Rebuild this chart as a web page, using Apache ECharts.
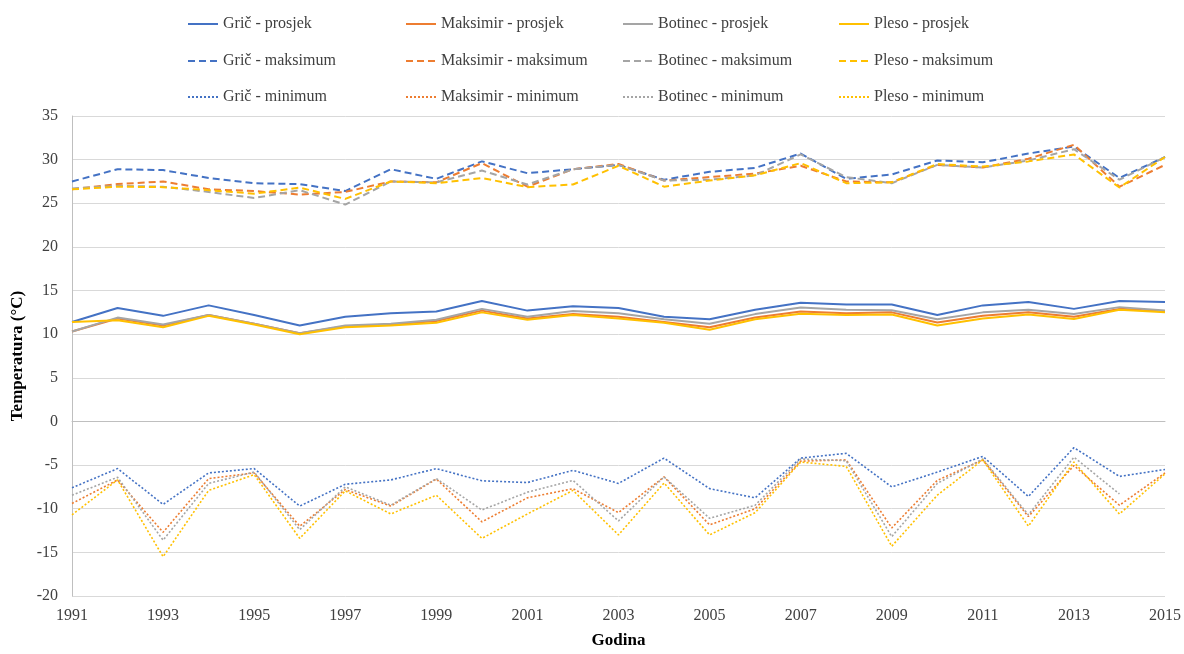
<!DOCTYPE html>
<html><head><meta charset="utf-8">
<script src="https://cdn.jsdelivr.net/npm/echarts@6/dist/echarts.min.js"></script>
<style>html,body{margin:0;padding:0;background:#fff}#c{width:1184px;height:654px}</style>
</head><body><div id="c"></div>
<script>
const years = [1991,1992,1993,1994,1995,1996,1997,1998,1999,2000,2001,2002,2003,2004,2005,2006,2007,2008,2009,2010,2011,2012,2013,2014,2015];

const gricAvg   = [11.4,13.0,12.1,13.3,12.2,11.0,12.0,12.4,12.6,13.8,12.7,13.2,13.0,12.0,11.7,12.8,13.6,13.4,13.4,12.2,13.3,13.7,12.9,13.8,13.7];
const maksAvg   = [10.3,11.8,11.0,12.2,11.2,10.1,10.9,11.1,11.5,12.7,11.8,12.3,12.0,11.4,10.8,11.9,12.6,12.4,12.5,11.35,12.1,12.5,12.0,12.9,12.6];
const botAvg    = [10.3,11.9,11.1,12.2,11.2,10.1,11.0,11.2,11.65,12.9,12.0,12.65,12.4,11.7,11.2,12.3,13.05,12.8,12.75,11.7,12.5,12.8,12.3,13.1,12.7];
const plesoAvg  = [11.4,11.6,10.8,12.1,11.1,10.0,10.8,11.0,11.3,12.5,11.65,12.2,11.8,11.3,10.5,11.7,12.35,12.2,12.25,11.0,11.8,12.25,11.75,12.8,12.5];

const gricMax   = [27.5,28.9,28.8,27.9,27.3,27.2,26.4,28.9,27.8,29.8,28.45,28.9,29.4,27.7,28.6,29.05,30.7,27.8,28.3,29.9,29.7,30.7,31.5,27.9,30.3];
const maksMax   = [26.6,27.2,27.5,26.6,26.4,26.0,26.3,27.5,27.4,29.6,26.9,28.9,29.5,27.6,28.0,28.4,29.3,27.5,27.4,29.4,29.1,30.1,31.7,26.9,29.4];
const botMax    = [26.7,27.0,26.9,26.3,25.6,26.5,24.85,27.5,27.4,28.75,27.15,28.9,29.4,27.6,27.7,28.2,30.6,28.0,27.3,29.4,29.1,29.9,31.2,27.7,30.3];
const plesoMax  = [26.6,26.9,26.85,26.5,26.1,26.8,25.5,27.5,27.3,27.9,26.85,27.15,29.3,26.9,27.6,28.2,29.6,27.3,27.4,29.5,29.2,29.8,30.6,26.8,30.3];

const gricMin   = [-7.6,-5.4,-9.5,-5.9,-5.4,-9.7,-7.2,-6.7,-5.4,-6.8,-7.0,-5.6,-7.1,-4.2,-7.7,-8.75,-4.2,-3.65,-7.5,-5.8,-4.0,-8.6,-3.0,-6.3,-5.5];
const maksMin   = [-9.4,-6.7,-12.7,-6.55,-5.9,-12.0,-7.8,-9.7,-6.6,-11.5,-8.75,-7.7,-10.45,-6.35,-11.85,-10.0,-4.55,-4.4,-12.2,-6.75,-4.4,-10.9,-5.05,-9.6,-5.9];
const botMin    = [-8.45,-6.4,-13.6,-7.1,-5.8,-12.4,-7.5,-9.6,-6.55,-10.15,-8.1,-6.75,-11.4,-6.35,-11.1,-9.6,-4.3,-4.5,-13.2,-7.1,-4.3,-10.7,-4.1,-8.3,null];
const plesoMin  = [-10.7,-6.7,-15.5,-7.9,-6.1,-13.4,-7.95,-10.6,-8.45,-13.4,-10.6,-7.9,-13.0,-7.05,-13.0,-10.45,-4.65,-5.15,-14.3,-8.45,-4.4,-12.0,-4.65,-10.6,-6.0];

const stations = ['Grič','Maksimir','Botinec','Pleso'];
const kinds = ['prosjek','maksimum','minimum'];
const colors = ['#4472C4','#ED7D31','#A5A5A5','#FFC000'];
const table = [
  [gricAvg, maksAvg, botAvg, plesoAvg],
  [gricMax, maksMax, botMax, plesoMax],
  [gricMin, maksMin, botMin, plesoMin]
];
const lineTypes = ['solid', [7,4], [2,2]];
const lineWidths = [2, 2, 1.6];

const FONT = 'Liberation Serif';
const series = [];
const legends = [];
const colLeft = [187, 405, 622, 838];
const rowTop = [11, 48, 84];
kinds.forEach((k, r) => {
  stations.forEach((s, c) => {
    const name = s + ' - ' + k;
    series.push({
      name: name,
      type: 'line',
      symbol: 'none',
      connectNulls: false,
      lineStyle: {color: colors[c], width: lineWidths[r], type: lineTypes[r]},
      itemStyle: {color: colors[c]},
      data: years.map((y, i) => [y, table[r][c][i]])
    });
    legends.push({
      data: [name],
      left: colLeft[c],
      top: rowTop[r] + 5,
      padding: 0,
      itemWidth: 30,
      itemHeight: 14,
      itemStyle: {opacity: 0},
      lineStyle: {opacity: 1},
      textStyle: {fontFamily: FONT, fontSize: 16, color: '#404040'}
    });
  });
});

const chart = echarts.init(document.getElementById('c'));
chart.setOption({
  animation: false,
  backgroundColor: '#fff',
  legend: legends,
  grid: {left: 72, right: 19, top: 116, bottom: 54},
  xAxis: {
    type: 'value', min: 1991, max: 2015, interval: 2,
    name: 'Godina', nameLocation: 'middle', nameGap: 36,
    nameTextStyle: {fontFamily: FONT, fontSize: 17, fontWeight: 'bold', color: '#000'},
    axisLine: {show: true, lineStyle: {color: '#bfbfbf'}},
    axisTick: {show: false},
    splitLine: {show: false},
    axisLabel: {fontFamily: FONT, fontSize: 16, color: '#404040', margin: 12, formatter: v => String(v)}
  },
  yAxis: {
    type: 'value', min: -20, max: 35, interval: 5,
    name: 'Temperatura (°C)', nameLocation: 'middle', nameGap: 38,
    nameTextStyle: {fontFamily: FONT, fontSize: 17, fontWeight: 'bold', color: '#000'},
    axisLine: {show: true, lineStyle: {color: '#bfbfbf'}},
    axisTick: {show: false},
    splitLine: {show: true, lineStyle: {color: '#d9d9d9'}},
    axisLabel: {fontFamily: FONT, fontSize: 16, color: '#404040', margin: 14}
  },
  series: series
});
</script>
</body></html>
